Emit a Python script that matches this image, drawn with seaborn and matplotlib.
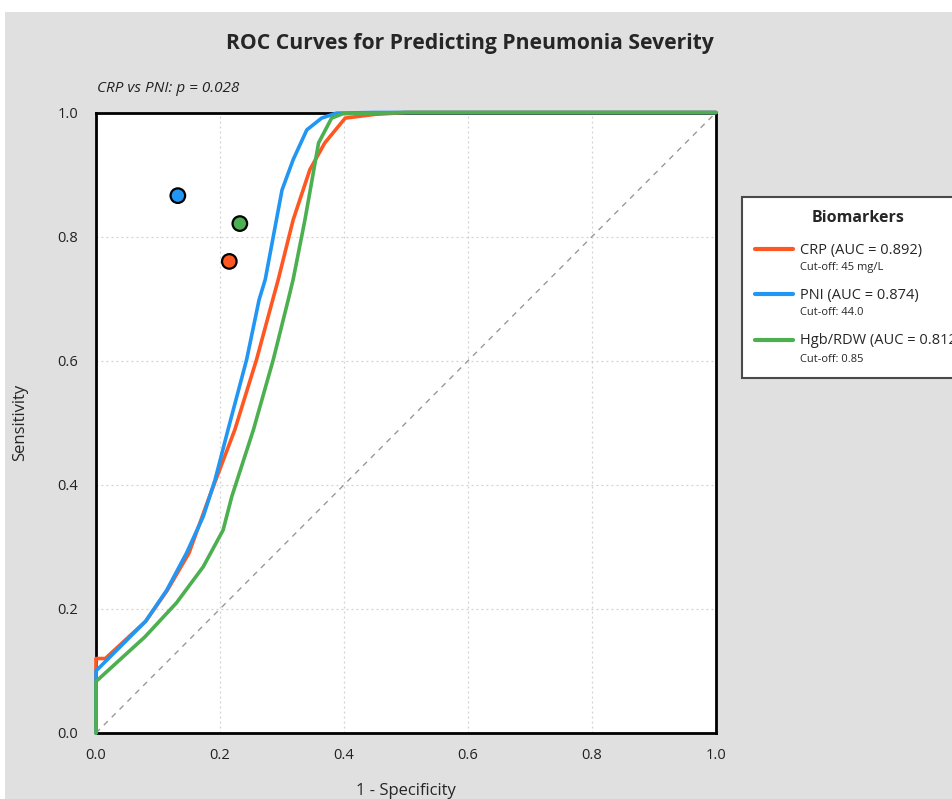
import pandas as pd
import seaborn as sns
import matplotlib.pyplot as plt
from matplotlib.lines import Line2D
from matplotlib.patches import Rectangle

# Datos de las curvas ROC

crp_fpr = [0.0, 0.0, 0.015, 0.08, 0.115, 0.15, 0.183, 0.224, 0.259, 0.285, 0.294,
           0.318, 0.345, 0.369, 0.402, 0.45, 0.5, 1.0]
crp_tpr = [0.0, 0.12, 0.12, 0.18, 0.23, 0.29, 0.381, 0.489, 0.602, 0.698, 0.731,
           0.827, 0.908, 0.951, 0.991, 0.997, 1.0, 1.0]

pni_fpr = [0.0, 0.0, 0.08, 0.114, 0.146, 0.173, 0.192, 0.213, 0.243, 0.263, 0.273,
           0.30, 0.318, 0.34, 0.364, 0.388, 0.45, 1.0]
pni_tpr = [0.0, 0.10, 0.18, 0.23, 0.29, 0.349, 0.408, 0.489, 0.602, 0.698, 0.731,
           0.875, 0.924, 0.972, 0.991, 0.999, 1.0, 1.0]

hgb_fpr = [0.0, 0.0, 0.079, 0.13, 0.173, 0.205, 0.219, 0.254, 0.286, 0.31, 0.318,
           0.337, 0.359, 0.38, 0.398, 0.5, 1.0]
hgb_tpr = [0.0, 0.083, 0.155, 0.21, 0.268, 0.327, 0.381, 0.489, 0.602, 0.698, 0.731,
           0.827, 0.951, 0.991, 0.998, 1.0, 1.0]

biomarcadores = ["CRP", "PNI", "Hgb/RDW"]
auc = ["0.892", "0.874", "0.812"]
cortes = ["Cut-off: 45 mg/L", "Cut-off: 44.0", "Cut-off: 0.85"]

# Puntos de corte optimos
punto_fpr = [0.215, 0.132, 0.232]
punto_tpr = [0.760, 0.866, 0.821]

colores = {"CRP": "#FF5722", "PNI": "#2196F3", "Hgb/RDW": "#4CAF50"}

# DataFrames

df = pd.concat([
    pd.DataFrame({"fpr": crp_fpr, "tpr": crp_tpr, "marcador": "CRP"}),
    pd.DataFrame({"fpr": pni_fpr, "tpr": pni_tpr, "marcador": "PNI"}),
    pd.DataFrame({"fpr": hgb_fpr, "tpr": hgb_tpr, "marcador": "Hgb/RDW"}),
], ignore_index=True)

df_puntos = pd.DataFrame({"fpr": punto_fpr, "tpr": punto_tpr, "marcador": biomarcadores})

# Grafico

sns.set_style("white")
plt.rcParams["font.family"] = ["Open Sans", "DejaVu Sans"]

fig = plt.figure(figsize=(9.53, 7.99), dpi=100, facecolor="white")
fig.patches.append(Rectangle((5 / 953, 0), 1, 1 - 12 / 799, transform=fig.transFigure,
                             facecolor="#e0e0e0", edgecolor="none", zorder=-10))
ax = fig.add_axes([96 / 953, 1 - 733 / 799, 620 / 953, 620.5 / 799])
ax.set_facecolor("white")

ax.plot([0, 1], [0, 1], ls=(0, (4, 4)), color="#999999", lw=1, zorder=1)

sns.lineplot(data=df, x="fpr", y="tpr", hue="marcador", palette=colores,
             estimator=None, sort=False, linewidth=2.6, legend=False, ax=ax,
             zorder=3, clip_on=False)
sns.scatterplot(data=df_puntos, x="fpr", y="tpr", hue="marcador", palette=colores,
                s=110, edgecolor="black", linewidth=1.6, legend=False, ax=ax, zorder=4)

ax.set_xlim(0, 1)
ax.set_ylim(0, 1)
ticks = [0.0, 0.2, 0.4, 0.6, 0.8, 1.0]
ax.set_xticks(ticks)
ax.set_yticks(ticks)
ax.set_xticklabels([f"{t:.1f}" for t in ticks])
ax.set_yticklabels([f"{t:.1f}" for t in ticks])
ax.tick_params(axis="x", length=0, labelsize=10.5, pad=11, colors="#222222")
ax.tick_params(axis="y", length=0, labelsize=10.5, pad=13, colors="#222222")
ax.grid(True, ls=(0, (1.5, 2.5)), color="#d0d0d0", lw=0.9)
for s in ax.spines.values():
    s.set_color("black")
    s.set_linewidth(2)

ax.set_xlabel("1 - Specificity", fontsize=12, labelpad=14)
ax.set_ylabel("Sensitivity", fontsize=12)
ax.yaxis.set_label_coords(-0.11, 0.5)

fig.text(470 / 953, 1 - 44 / 799, "ROC Curves for Predicting Pneumonia Severity",
         ha="center", va="center", fontsize=15.2, fontweight="bold")
fig.text(97 / 953, 1 - 88 / 799, "CRP vs PNI: p = 0.028", ha="left", va="center",
         fontsize=11, style="italic", color="#222222")

# Leyenda

handles = []
labels = []
for i, (nombre, a, c) in enumerate(zip(biomarcadores, auc, cortes)):
    handles.append(Line2D([], [], color=colores[nombre], lw=3))
    labels.append(f"{nombre} (AUC = {a})")
    handles.append(Line2D([], [], color="none"))
    labels.append(c + ("\n" if i < len(cortes) - 1 else ""))

leg = fig.legend(handles, labels, title="Biomarkers\n", loc="upper left",
                 bbox_to_anchor=(742 / 953, 1 - 197 / 799), bbox_transform=fig.transFigure,
                 borderaxespad=0, fancybox=False, frameon=True, framealpha=1,
                 facecolor="white", fontsize=10.5, title_fontsize=11.5,
                 handlelength=2.6, handleheight=0.5, labelspacing=0.28,
                 borderpad=0.9, handletextpad=0.45)
leg.get_title().set_fontweight("bold")
leg.get_title().set_linespacing(0.72)
leg.get_frame().set_edgecolor("#4a4a4a")
leg.get_frame().set_linewidth(1.5)
for i, t in enumerate(leg.get_texts()):
    if i % 2 == 1:
        t.set_fontsize(8)
        t.set_linespacing(1.0)

fig.savefig("out.png", dpi=100, facecolor=fig.get_facecolor())
